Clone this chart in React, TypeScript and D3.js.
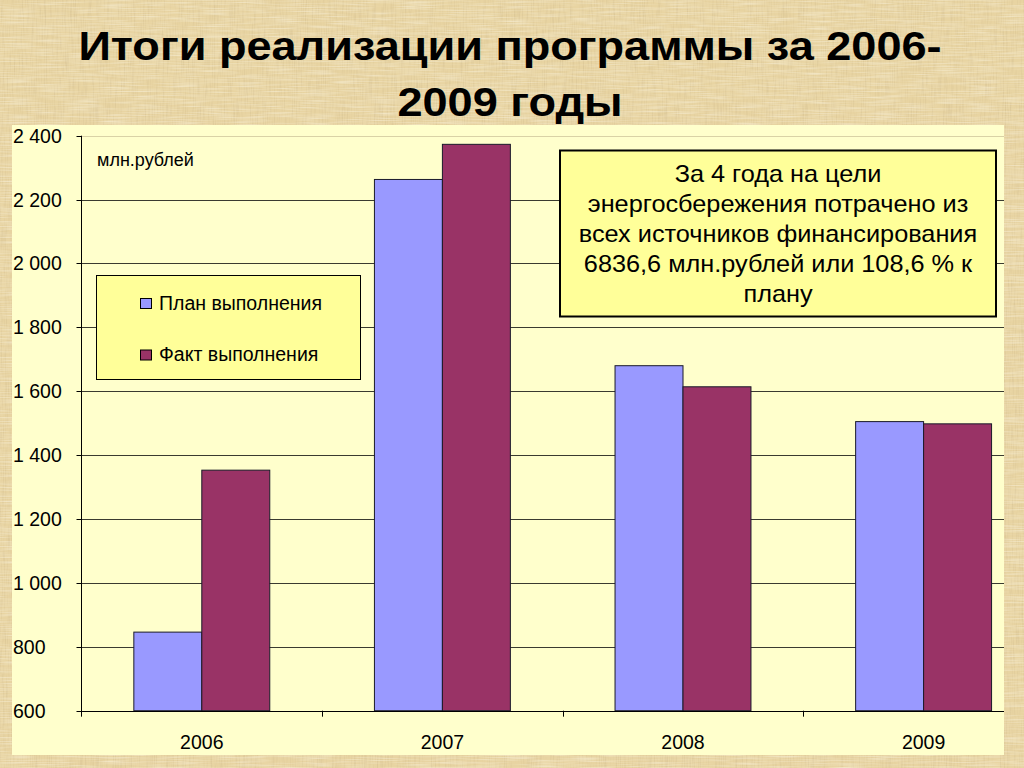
import React from "react";
import * as d3 from "d3";

const years = ["2006", "2007", "2008", "2009"];
const series = ["План выполнения", "Факт выполнения"];
const planValues = [846, 2263, 1680, 1505];
const factValues = [1353, 2373, 1614, 1498];
const yTicks = [600, 800, 1000, 1200, 1400, 1600, 1800, 2000, 2200, 2400];
const titleLines = ["Итоги реализации программы за 2006-", "2009 годы"];
const noteLines = [
  "За 4 года на цели",
  "энергосбережения потрачено из",
  "всех источников финансирования",
  "6836,6 млн.рублей или 108,6 % к",
  "плану",
];
const colors = ["#9999FF", "#993366"];

const W = 1024;
const H = 768;
const FONT = "'Liberation Sans', Arial, sans-serif";

// plot area
const plot = { x0: 12, y0: 125, x1: 1004, y1: 755 };
const axisX = 81.5;

const fmt = (v: number) => d3.format(",")(v).replace(",", " ");

export default function App() {
  const y = d3.scaleLinear().domain([600, 2400]).range([710.7, 135.7]);
  const x = d3
    .scaleBand<string>()
    .domain(years)
    .range([axisX, axisX + 4 * 240.6]);
  const xSub = d3
    .scaleBand<number>()
    .domain([0, 1])
    .range([0, x.bandwidth()])
    .paddingOuter(0.77);

  const values = [planValues, factValues];

  return (
    <svg
      width={W}
      height={H}
      style={{ position: "absolute", left: 0, top: 0, fontFamily: FONT }}
    >
      <defs>
        <filter id="paper" x="0" y="0" width="100%" height="100%">
          <feTurbulence
            type="fractalNoise"
            baseFrequency="0.9 0.04"
            numOctaves="3"
            seed="4"
            result="n"
          />
          <feColorMatrix
            in="n"
            type="matrix"
            values="0 0 0 0 0.6  0 0 0 0 0.47  0 0 0 0 0.25  0 0 0 0.9 -0.4"
          />
        </filter>
        <filter id="paper2" x="0" y="0" width="100%" height="100%">
          <feTurbulence
            type="fractalNoise"
            baseFrequency="0.03 0.8"
            numOctaves="2"
            seed="9"
            result="n"
          />
          <feColorMatrix
            in="n"
            type="matrix"
            values="0 0 0 0 0.98  0 0 0 0 0.94  0 0 0 0 0.8  0 0 0 1 -0.4"
          />
        </filter>
        <clipPath id="plotClip">
          <rect
            x={plot.x0}
            y={plot.y0}
            width={plot.x1 - plot.x0}
            height={plot.y1 - plot.y0}
          />
        </clipPath>
      </defs>

      {/* background */}
      <rect width={W} height={H} fill="#E8D4A2" />
      <rect width={W} height={H} filter="url(#paper)" />
      <rect width={W} height={H} filter="url(#paper2)" />

      {/* title */}
      {titleLines.map((line, i) => (
        <g key={i} transform={`translate(510,${60 + i * 56}) scale(1.1,1)`}>
          <text
            x={0}
            y={0}
            textAnchor="middle"
            fontSize={41}
            fontWeight="bold"
            fill="#000"
          >
            {line}
          </text>
        </g>
      ))}

      {/* plot area */}
      <rect
        x={plot.x0}
        y={plot.y0}
        width={plot.x1 - plot.x0}
        height={plot.y1 - plot.y0}
        fill="#FFFFCC"
      />

      <g clipPath="url(#plotClip)">
        {/* gridlines */}
        {yTicks.slice(1).map((t) => (
          <line
            key={t}
            x1={axisX}
            x2={plot.x1}
            y1={Math.round(y(t)) + 0.5}
            y2={Math.round(y(t)) + 0.5}
            stroke={t === 2400 ? "#D9D2A6" : "#3A3A30"}
            strokeWidth={1}
          />
        ))}

        {/* bars */}
        {years.map((yr, i) => (
          <g key={yr} transform={`translate(${x(yr)},0)`}>
            {values.map((vals, s) => (
              <rect
                key={s}
                x={xSub(s)}
                y={y(vals[i])}
                width={xSub.bandwidth()}
                height={y(600) - y(vals[i])}
                fill={colors[s]}
                stroke="#1A1A2A"
                strokeWidth={1}
              />
            ))}
          </g>
        ))}

        {/* x axis */}
        <line
          x1={axisX}
          x2={plot.x1}
          y1={Math.round(y(600)) + 0.5}
          y2={Math.round(y(600)) + 0.5}
          stroke="#000"
        />
        {years.slice(1).map((yr) => (
          <line
            key={yr}
            x1={Math.round(x(yr) as number) + 0.5}
            x2={Math.round(x(yr) as number) + 0.5}
            y1={y(600)}
            y2={y(600) + 6}
            stroke="#000"
          />
        ))}
      </g>

      {/* y axis */}
      <line
        x1={axisX}
        x2={axisX}
        y1={y(2400)}
        y2={y(600) + 6}
        stroke="#000"
      />
      {yTicks.map((t) => (
        <g key={t}>
          <line
            x1={axisX - 5}
            x2={axisX}
            y1={Math.round(y(t)) + 0.5}
            y2={Math.round(y(t)) + 0.5}
            stroke="#000"
          />
          <text x={13} y={y(t) + 7} fontSize={19.5} fill="#000">
            {fmt(t)}
          </text>
        </g>
      ))}

      {/* category labels */}
      {years.map((yr) => (
        <text
          key={yr}
          x={(x(yr) as number) + x.bandwidth() / 2}
          y={749}
          textAnchor="middle"
          fontSize={19.5}
          fill="#000"
        >
          {yr}
        </text>
      ))}

      {/* unit */}
      <text x={97} y={165.5} fontSize={18} fill="#000">
        млн.рублей
      </text>

      {/* legend */}
      <rect
        x={96.5}
        y={275.5}
        width={264}
        height={104}
        fill="#FFFF99"
        stroke="#000"
        strokeWidth={1}
      />
      {series.map((name, s) => (
        <g key={name} transform={`translate(140,${298 + s * 51.5})`}>
          <rect
            x={0.5}
            y={0.5}
            width={11}
            height={10}
            fill={colors[s]}
            stroke="#000"
            strokeWidth={1}
          />
          <text x={19} y={11.5} fontSize={19.5} fill="#000">
            {name}
          </text>
        </g>
      ))}

      {/* note box */}
      <rect
        x={560}
        y={150.5}
        width={436}
        height={166}
        fill="#FFFF99"
        stroke="#000"
        strokeWidth={2}
      />
      {noteLines.map((line, i) => (
        <g key={i} transform={`translate(778,${181.5 + i * 30}) scale(1.1,1)`}>
          <text x={0} y={0} textAnchor="middle" fontSize={23} fill="#000">
            {line}
          </text>
        </g>
      ))}
    </svg>
  );
}
